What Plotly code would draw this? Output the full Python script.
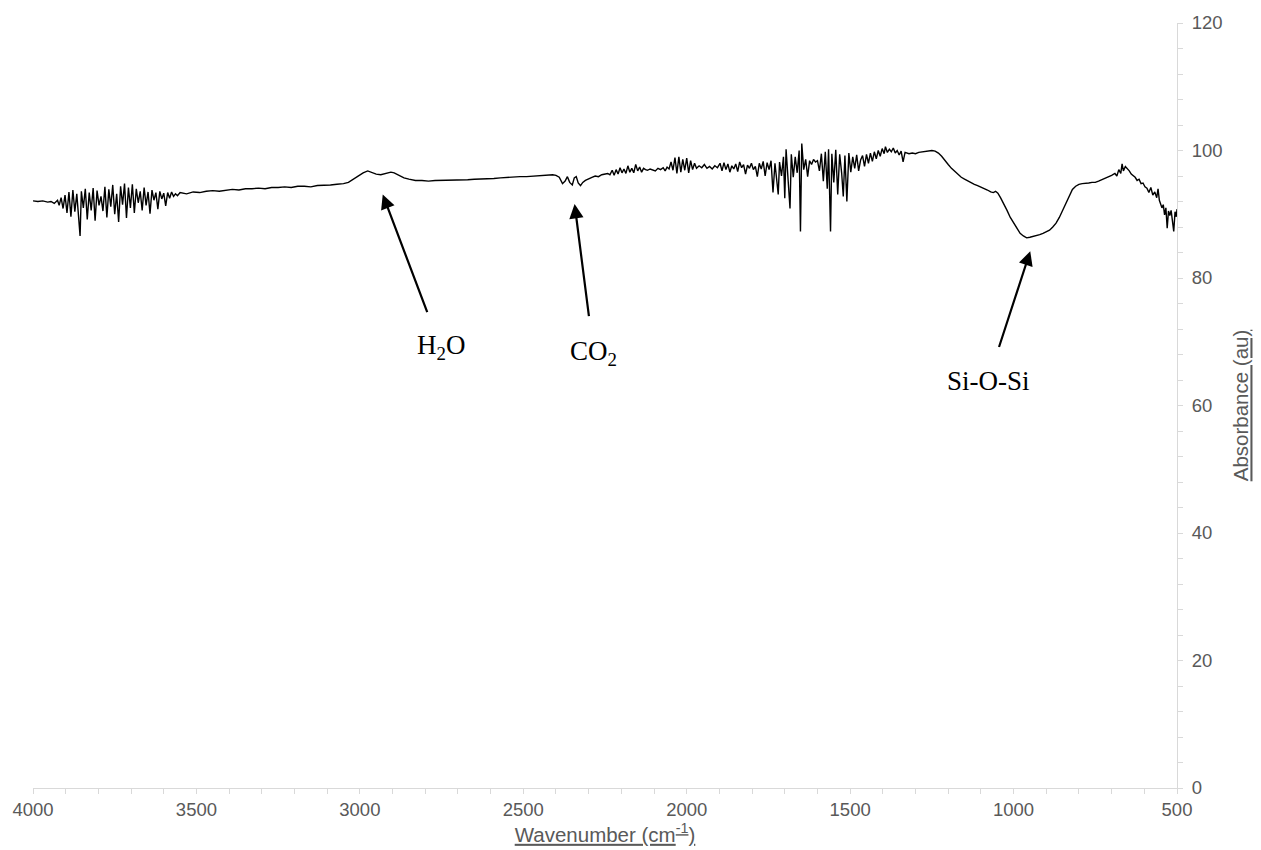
import plotly.graph_objects as go

# ---- spectrum data ----
wavenumber = [
    4000, 3985, 3970, 3955, 3945, 3935, 3925,
    3920, 3914, 3908, 3902, 3896, 3890, 3884, 3878, 3872, 3866, 3860, 3856, 3852, 3846,
    3840, 3834, 3828, 3822, 3816, 3810, 3804, 3798, 3792, 3786, 3780, 3774, 3768, 3762,
    3756, 3750, 3744, 3738, 3732, 3726, 3720, 3714, 3708, 3702, 3696, 3690, 3684, 3678,
    3672, 3666, 3660, 3654, 3648, 3642, 3636, 3630, 3624, 3618, 3612, 3606, 3600, 3594,
    3588, 3582, 3576, 3570, 3564, 3558, 3550,
    3530, 3510, 3490, 3470, 3450, 3430, 3410, 3390, 3370, 3350, 3330, 3310, 3290, 3270,
    3250, 3230, 3210, 3190, 3170, 3150, 3130, 3110, 3090, 3070, 3050, 3035,
    3020, 3005, 2990, 2976, 2962, 2950, 2936, 2920, 2905, 2895, 2880, 2865, 2850, 2830,
    2810, 2790, 2770, 2750, 2730, 2710, 2690, 2670, 2650, 2630, 2610, 2590, 2570, 2550,
    2530, 2510, 2490, 2470, 2450, 2430, 2410, 2400,
    2390, 2380, 2372, 2365, 2358, 2350, 2344, 2338, 2332, 2325, 2318, 2310, 2300, 2290,
    2280, 2270, 2260, 2250, 2242, 2235,
    2228, 2222, 2216, 2210, 2204, 2198, 2192, 2186, 2180, 2174, 2168, 2162, 2156, 2150,
    2144, 2138, 2132, 2126, 2120, 2112, 2104, 2096, 2088, 2080, 2072, 2066, 2060, 2054,
    2048, 2042, 2036, 2030, 2024, 2018, 2012, 2006, 2000, 1994, 1988, 1982, 1976, 1970,
    1962, 1954, 1946, 1938, 1930, 1922, 1914, 1906, 1898, 1892, 1886, 1880, 1874, 1868,
    1862, 1856, 1850, 1844, 1838, 1832, 1826, 1820, 1814, 1808, 1802, 1796, 1790, 1784,
    1778, 1772, 1766, 1760, 1754, 1748, 1742, 1736, 1730, 1724, 1720, 1716, 1710, 1704,
    1700, 1696, 1690, 1684, 1680, 1674, 1668, 1662, 1656, 1652, 1648, 1642, 1636, 1630,
    1624, 1618, 1612, 1606, 1600, 1594, 1588, 1582, 1576, 1570, 1566, 1560, 1556, 1550,
    1544, 1538, 1532, 1526, 1521, 1516, 1510, 1504, 1498, 1492, 1486, 1480, 1474, 1468,
    1462, 1456, 1450, 1444, 1438, 1432, 1426, 1420, 1414, 1408, 1402, 1396, 1392, 1386,
    1380, 1374, 1368, 1362, 1356, 1350, 1344, 1338, 1332,
    1320, 1310, 1300, 1290, 1280, 1270, 1260, 1250, 1240, 1230,
    1220, 1210, 1200, 1190, 1180, 1170, 1160, 1150, 1140, 1130, 1120, 1110, 1100, 1090,
    1080, 1070, 1062, 1055, 1048, 1040, 1030, 1020, 1010, 1000, 990, 980, 970, 960,
    950, 940, 930, 920, 910, 900, 890, 880, 870, 860, 850, 840, 830, 820,
    810, 800, 790, 780, 770, 760, 750, 740, 730, 720, 710, 700, 690, 684,
    678, 672, 668, 664, 658, 652, 646, 640, 634, 628, 622, 616, 610, 604,
    598, 592, 586, 580, 574, 568, 562, 558, 554, 550, 546, 542, 538, 534,
    530, 526, 522, 518, 514, 510, 506, 502, 500,
]

absorbance = [
    92.1, 92.0, 92.1, 91.9, 92.0, 91.7, 92.2,
    91.4, 92.6, 90.9, 93.0, 90.2, 93.5, 89.6, 93.8, 90.4, 93.2, 89.8, 86.6, 93.6, 91.0,
    94.0, 89.2, 93.4, 90.6, 94.1, 89.0, 93.7, 91.4, 92.8, 90.5, 94.3, 89.5, 93.9, 91.2,
    94.6, 90.0, 93.2, 88.8, 94.4, 91.5, 94.8, 89.4, 94.2, 91.0, 94.7, 90.2, 94.0, 91.8,
    93.6, 90.6, 94.2, 91.4, 93.5, 90.1, 93.8, 92.2, 93.4, 90.8, 93.6, 92.4, 93.3, 91.3,
    93.4, 92.5, 93.5, 92.8, 93.2, 92.9, 93.4,
    93.2, 93.5, 93.4, 93.6, 93.7, 93.6, 93.8, 93.9, 93.8, 94.0, 94.0, 94.1, 94.0, 94.2,
    94.2, 94.3, 94.2, 94.4, 94.4, 94.3, 94.5, 94.5, 94.6, 94.7, 94.8, 95.0,
    95.5, 96.1, 96.5, 96.8, 96.5, 96.3, 96.2, 96.4, 96.6, 96.5, 96.1, 95.7, 95.5, 95.3,
    95.3, 95.2, 95.3, 95.3, 95.4, 95.3, 95.4, 95.4, 95.5, 95.5, 95.6, 95.6, 95.7, 95.8,
    95.8, 95.9, 95.9, 96.0, 96.0, 96.1, 96.2, 96.1,
    95.8, 94.8, 95.2, 95.9, 95.0, 94.6, 95.7, 95.9, 94.9, 94.5, 95.0, 95.3, 95.6, 95.8,
    96.0, 95.9, 96.2, 96.3, 96.4, 96.2,
    96.9, 96.1, 97.0, 96.3, 97.3, 96.5, 97.1, 96.4, 97.6, 96.6, 97.2, 96.5, 97.8, 96.8,
    97.4, 96.6, 97.2, 97.0, 96.9, 97.1, 97.0, 96.8, 97.2, 97.0, 97.3, 96.8, 97.4, 97.1,
    98.2, 96.9, 98.9, 96.4, 99.0, 96.6, 98.6, 96.9, 98.8, 96.5, 98.4, 97.0, 98.0, 97.2,
    97.6, 97.3, 97.8, 97.2, 97.5, 97.1, 97.6, 97.3, 98.0, 96.8, 98.1, 97.0, 97.9, 96.6,
    97.6, 97.1, 97.9, 96.7, 98.2, 97.3, 97.8, 96.3, 97.7, 97.2, 98.0, 97.0, 97.5, 95.9,
    98.0, 97.1, 98.3, 96.0, 98.1, 97.0, 98.4, 93.4, 98.0, 95.6, 93.1, 98.2, 96.0, 99.0,
    92.5, 100.2, 95.4, 90.9, 99.4, 95.8, 99.0, 96.5, 100.0, 87.3, 101.1, 97.0, 98.6, 95.9,
    98.4, 97.8, 98.6, 98.2, 98.4, 96.8, 99.5, 95.2, 99.8, 94.0, 100.2, 87.3, 99.5, 95.0,
    100.1, 93.1, 99.4, 96.5, 92.8, 99.2, 92.0, 99.6, 96.6, 99.0, 97.2, 99.3, 96.8, 98.5,
    99.2, 97.5, 99.4, 98.0, 99.6, 98.3, 99.8, 98.7, 100.0, 99.1, 100.3, 99.5, 100.6, 99.7,
    100.2, 99.8, 100.4, 99.6, 100.0, 99.3, 99.9, 98.2, 99.7,
    99.5, 99.6, 99.5, 99.7, 99.8, 99.9, 100.0, 100.0, 99.9, 99.6,
    99.1, 98.4, 97.8, 97.2, 96.7, 96.2, 95.8, 95.5, 95.2, 94.9, 94.7, 94.5, 94.3, 94.0,
    93.8, 93.5, 93.4, 93.6, 93.3, 92.6, 91.7, 90.6, 89.5, 88.6, 87.7, 87.0, 86.6, 86.3,
    86.4, 86.5, 86.6, 86.8, 87.0, 87.2, 87.5, 88.0, 88.6, 89.5, 90.6, 91.9, 93.0, 93.9,
    94.4, 94.7, 94.8, 94.8, 94.9, 95.0, 95.0, 95.2, 95.4, 95.6, 95.9, 96.1, 96.4, 96.0,
    97.0, 96.4, 97.9, 96.8, 97.5, 97.2, 96.8, 96.3, 96.0, 95.8, 95.3, 95.5, 94.8, 94.9,
    94.3, 94.1, 93.4, 94.2, 93.0, 93.5, 92.6, 94.0, 92.2, 91.6, 91.0, 91.5, 89.9, 91.0,
    87.8, 90.5, 89.8, 90.6, 88.5, 87.3, 90.4, 89.6, 90.8,
]

# ---- peak labels ----
peak_labels = ["H<sub>2</sub>O", "CO<sub>2</sub>", "Si-O-Si"]
peak_tip_x = [2930, 2343, 949]
peak_tip_y = [93.1, 91.6, 84.2]
label_x = [2753, 2285, 1078]
label_y = [69.1, 68.3, 63.9]

x_tick_vals = [4000, 3500, 3000, 2500, 2000, 1500, 1000, 500]
y_tick_vals = [0, 20, 40, 60, 80, 100, 120]

AXIS_GREY = "#d9d9d9"
TEXT_GREY = "#595959"

fig = go.Figure()
fig.add_trace(go.Scatter(
    x=wavenumber, y=absorbance, mode="lines",
    line=dict(color="#000000", width=1.4),
    hoverinfo="skip", showlegend=False,
))

annotations = []
for lab, tx, ty, lx, ly in zip(peak_labels, peak_tip_x, peak_tip_y, label_x, label_y):
    annotations.append(dict(
        x=tx, y=ty, xref="x", yref="y", ax=lx, ay=ly, axref="x", ayref="y",
        text=lab, showarrow=True, arrowhead=2, arrowsize=1.3, arrowwidth=2.2,
        arrowcolor="#000000", startstandoff=18,
        font=dict(family="Liberation Serif, Times New Roman, serif", size=27, color="#000000"),
        xanchor="center", yanchor="middle",
    ))

fig.update_layout(
    width=1261, height=850,
    margin=dict(l=32, r=84, t=21, b=61),
    paper_bgcolor="#ffffff", plot_bgcolor="#ffffff",
    font=dict(family="Liberation Sans, Arial, sans-serif", color=TEXT_GREY, size=18),
    annotations=annotations,
    xaxis=dict(
        range=[4000, 500], tickvals=x_tick_vals,
        showgrid=False, zeroline=False,
        showline=True, linecolor=AXIS_GREY, linewidth=1,
        ticks="outside", ticklen=5, tickcolor=AXIS_GREY, tickwidth=1,
        minor=dict(dtick=100, ticks="outside", ticklen=5, tickcolor=AXIS_GREY, tickwidth=1, showgrid=False),
        tickfont=dict(size=18.5, color=TEXT_GREY),
        title=dict(text="<u>Wavenumber (cm<sup>-1</sup>)</u>", font=dict(size=20.5, color=TEXT_GREY), standoff=3),
    ),
    yaxis=dict(
        range=[0, 120], tickvals=y_tick_vals, side="right",
        showgrid=False, zeroline=False,
        showline=True, linecolor=AXIS_GREY, linewidth=1,
        ticks="outside", ticklen=5, tickcolor=AXIS_GREY, tickwidth=1,
        minor=dict(dtick=4, ticks="outside", ticklen=5, tickcolor=AXIS_GREY, tickwidth=1, showgrid=False),
        tickfont=dict(size=18.5, color=TEXT_GREY),
        ticklabelstandoff=5,
        title=dict(text="<u>Absorbance (au)</u>", font=dict(size=20.5, color=TEXT_GREY), standoff=12),
    ),
)

# remove the browser's default 8px body margin so the figure sits at the page origin
fig.write_html(
    "out.html",
    config={"displayModeBar": False},
    post_script="document.body.style.margin='0';document.body.style.overflow='hidden';",
)
